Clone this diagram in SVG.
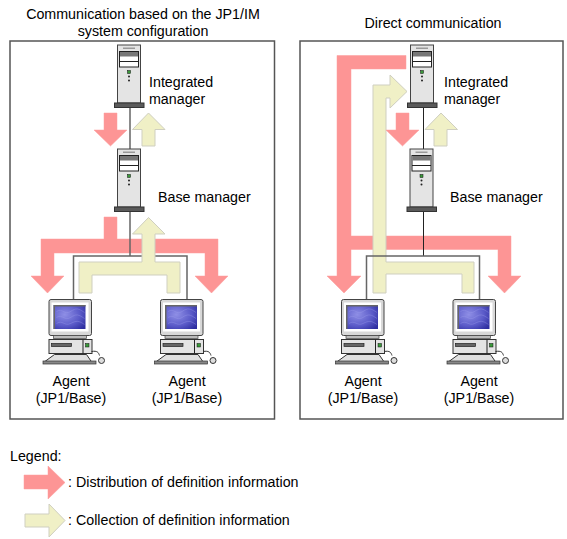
<svg xmlns="http://www.w3.org/2000/svg" width="567" height="539" viewBox="0 0 567 539">
<style>
text{font-family:"Liberation Sans",Arial,sans-serif;font-size:14.25px;fill:#000}
.m{text-anchor:middle}
.frame{fill:#fff;stroke:#555;stroke-width:1.5}
.pink{fill:#fd9595;stroke:#fd9c9c;stroke-width:.5}
.yel{fill:#f0f0c6;stroke:#cfcfc0;stroke-width:1}
.wg{fill:none;stroke:#666;stroke-width:1.5}
.wb{fill:none;stroke:#222;stroke-width:1}
</style>
<defs>
<radialGradient id="scr" cx=".35" cy=".4" r=".8"><stop offset="0" stop-color="#8f8fe6"/><stop offset=".6" stop-color="#5a5ac8"/><stop offset="1" stop-color="#2e2ea0"/></radialGradient>
<g id="server">
<rect x="3.500" y="0" width="23" height="58" fill="#e4e4e4" stroke="#444" stroke-width="1"/>
<rect x="9" y="2.500" width="12" height="1.500" fill="#999"/>
<rect x="5.500" y="6.500" width="19" height="15.500" fill="#fff" stroke="#222" stroke-width="1"/>
<rect x="6" y="7" width="18" height="4.500" fill="#777"/>
<path d="M5.500 16.500H24.500" stroke="#222" stroke-width="1"/>
<rect x="13.500" y="25.500" width="3" height="3" fill="#3a9a3a" stroke="#111" stroke-width=".5"/>
<circle cx="15" cy="31.500" r="1" fill="#222"/><circle cx="15" cy="35.500" r="1" fill="#222"/>
<rect x=".5" y="58" width="29.500" height="4.500" fill="#5a5a5a" stroke="#333" stroke-width="1"/>
</g>
<g id="pc">
<rect x=".5" y="0" width="42.500" height="36" rx="2" fill="#d8d8d8" stroke="#444" stroke-width="1"/>
<rect x="3" y="3" width="37" height="29" fill="#fff"/>
<rect x="5" y="5.500" width="32" height="24" fill="url(#scr)"/>
<path d="M8 12C14 8 16 16 22 12S30 9 36 13M8 18C14 14 16 22 22 18S30 15 36 19M8 24C14 20 16 27 22 24S30 21 36 25" fill="none" stroke="#9c9cec" stroke-width=".6" opacity=".6"/>
<path d="M5 5.500H37V7H6.500V29.500H5Z" fill="#666"/>
<rect x="5" y="36" width="33" height="3" fill="#bbb" stroke="#444" stroke-width=".7"/>
<rect x=".5" y="40" width="43" height="14" fill="#e4e4e4" stroke="#333" stroke-width="1"/>
<rect x="3" y="44" width="20" height="3" fill="#666" stroke="#222" stroke-width=".7"/>
<path d="M34.500 40V54" stroke="#222" stroke-width="1"/>
<rect x="37" y="44" width="3.500" height="3.500" fill="#3a9a3a" stroke="#111" stroke-width=".5"/>
<path d="M6 55H38L43.500 63H-5Z" fill="#e0e0e0" stroke="#333" stroke-width="1"/>
<rect x="-5.500" y="61.500" width="53" height="3" fill="#888" stroke="#333" stroke-width=".7"/>
<path d="M43 52C49 51 50 53 51 56" fill="none" stroke="#333" stroke-width="1"/>
<circle cx="53" cy="61" r="3" fill="#ddd" stroke="#333" stroke-width="1"/>
</g>
</defs>
<rect width="567" height="539" fill="#fff"/>
<rect class="frame" x="10" y="41" width="264.500" height="378"/>
<rect class="frame" x="300" y="41" width="263" height="378"/>

<g id="connectors">
<path class="pink" d="M104 113H117V130H127L110.500 146L94 130H104Z"/>
<path class="yel" d="M148.500 113L165 129.500H155V146H142V129.500H132.500Z"/>
<path class="pink" d="M104 217H117V239H218V276H228L211.500 293L195 276H205V253H54V276H64L47.500 293L31 276H41V239H104Z"/>
<path class="wg" d="M130 107V149M130 208V256M73.500 300V256H187V300"/>
<path class="yel" d="M148.500 217.500L165 234H155V262H180V293H167V275H92V293H79V262H142V234H132.500Z"/>

<path class="pink" d="M406 55.500V69H351V236H511V276H521L504.500 293L488 276H498V249.500H351V276H361L344 293L327 276H337V55.500Z"/>
<path class="yel" d="M373 293V85H390V75L407 91.500L390 108V98H386V262H474V293H462V274H386V293Z"/>
<path class="pink" d="M396 113H409V130H419L402.500 146L386 130H396Z"/>
<path class="yel" d="M441 113L457.500 129.500H447V146H434V129.500H425Z"/>
<path class="wb" d="M423.500 107V149M423.500 208V256"/>
<path class="wg" d="M366.500 300V256H479.500V300"/>

<path class="pink" d="M24 475H48V466L65 482.500L48 499V489H24Z"/>
<path class="yel" d="M25 514H49V504L65 520.500L49 537V527H25Z"/>
</g>

<g id="title-left"><text class="m" x="143" y="19">Communication based on the JP1/IM</text><text class="m" x="143" y="36">system configuration</text></g>
<g id="title-right"><text class="m" x="433" y="28">Direct communication</text></g>

<g id="integrated-manager-left"><use href="#server" x="114" y="45"/><text x="149" y="87">Integrated</text><text x="149" y="104">manager</text></g>
<g id="base-manager-left"><use href="#server" x="114" y="149"/><text x="158" y="202">Base manager</text></g>
<g id="agent-left-1"><use href="#pc" x="48.500" y="299.500"/><text class="m" x="71" y="386">Agent</text><text class="m" x="71" y="403">(JP1/Base)</text></g>
<g id="agent-left-2"><use href="#pc" x="160" y="299.500"/><text class="m" x="187" y="386">Agent</text><text class="m" x="187" y="403">(JP1/Base)</text></g>

<g id="integrated-manager-right"><use href="#server" x="407" y="45"/><text x="444" y="87">Integrated</text><text x="444" y="104">manager</text></g>
<g id="base-manager-right"><use href="#server" x="406.500" y="149"/><text x="450" y="202">Base manager</text></g>
<g id="agent-right-1"><use href="#pc" x="341" y="299.500"/><text class="m" x="363" y="386">Agent</text><text class="m" x="363" y="403">(JP1/Base)</text></g>
<g id="agent-right-2"><use href="#pc" x="452.500" y="299.500"/><text class="m" x="479" y="386">Agent</text><text class="m" x="479" y="403">(JP1/Base)</text></g>

<g id="legend"><text x="10" y="461">Legend:</text><text x="68" y="487">: Distribution of definition information</text><text x="68" y="525">: Collection of definition information</text></g>
</svg>
